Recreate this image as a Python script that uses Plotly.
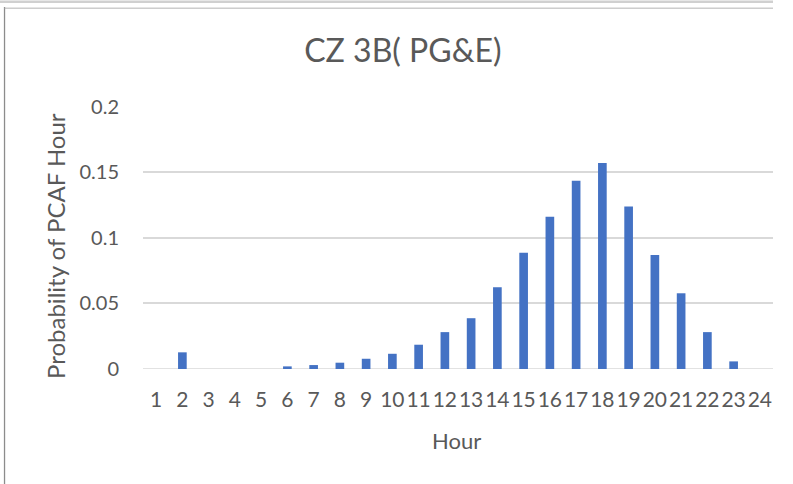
import plotly.graph_objects as go

# Probability of PCAF hour, CZ 3B (PG&E), hours 1..24
hours = [str(h) for h in range(1, 25)]
probability = [0, 0.0127, 0, 0, 0, 0.002, 0.003, 0.0048, 0.0078, 0.0116,
               0.0185, 0.0281, 0.0387, 0.0623, 0.0886, 0.116, 0.1435, 0.157,
               0.1238, 0.0868, 0.0577, 0.0281, 0.0058, 0]
y_ticks = [0, 0.05, 0.1, 0.15, 0.2]
y_tick_text = ["0", "0.05", "0.1", "0.15", "0.2"]

txt = "#595959"
font = "Lato"

fig = go.Figure(go.Bar(x=hours, y=probability, marker_color="#4472C4",
                       marker_line_width=0))

fig.update_layout(
    width=793, height=484,
    margin=dict(l=143, r=20, t=106, b=115),
    paper_bgcolor="white", plot_bgcolor="white",
    bargap=0.67,
    showlegend=False,
    font=dict(family=font, color=txt, size=20),
    title=dict(text="CZ 3B( PG&E)", x=0.508, xanchor="center",
               y=0.896, yanchor="middle",
               font=dict(family=font, size=32, color=txt)),
    xaxis=dict(showgrid=False, zeroline=False, showline=False,
               ticks="outside", ticklen=12, tickcolor="rgba(0,0,0,0)",
               tickangle=0, tickfont=dict(size=21)),
    yaxis=dict(range=[0, 0.2004], tickvals=y_ticks, ticktext=y_tick_text,
               showgrid=True, gridcolor="#d9d9d9", gridwidth=1.5,
               zeroline=False, showline=False,
               ticks="outside", ticklen=19, tickcolor="rgba(0,0,0,0)",
               tickfont=dict(size=20)),
    annotations=[
        dict(text="Hour", xref="paper", yref="paper", x=0.498, y=-0.270,
             xanchor="center", yanchor="middle", showarrow=False,
             font=dict(size=22)),
        dict(text="Probability of PCAF Hour", xref="paper", yref="paper",
             x=-0.138, y=0.468, textangle=-90, xanchor="center",
             yanchor="middle", showarrow=False, font=dict(size=24)),
    ],
    shapes=[
        # bottom axis line
        dict(type="line", xref="paper", yref="y", x0=0, x1=1, y0=0, y1=0,
             line=dict(color="#d9d9d9", width=1.5), layer="below"),
        # chart frame: left and top edges of the chart box
        dict(type="line", xref="paper", yref="paper", x0=-0.2198, x1=-0.2198,
             y0=1.3764, y1=-0.6, line=dict(color="#8c8c8c", width=1.3)),
        dict(type="line", xref="paper", yref="paper", x0=-0.2198, x1=1.0,
             y0=1.372, y1=1.372, line=dict(color="#b4b4b4", width=1)),
        # light strip along the very top
        dict(type="line", xref="paper", yref="paper", x0=-0.227, x1=1.0,
             y0=1.396, y1=1.396, line=dict(color="#d0d0d0", width=2.5)),
    ],
)

fig.write_html("out.html", config={"displayModeBar": False},
               post_script="document.body.style.margin='0';"
                           "document.body.style.overflow='hidden';")
